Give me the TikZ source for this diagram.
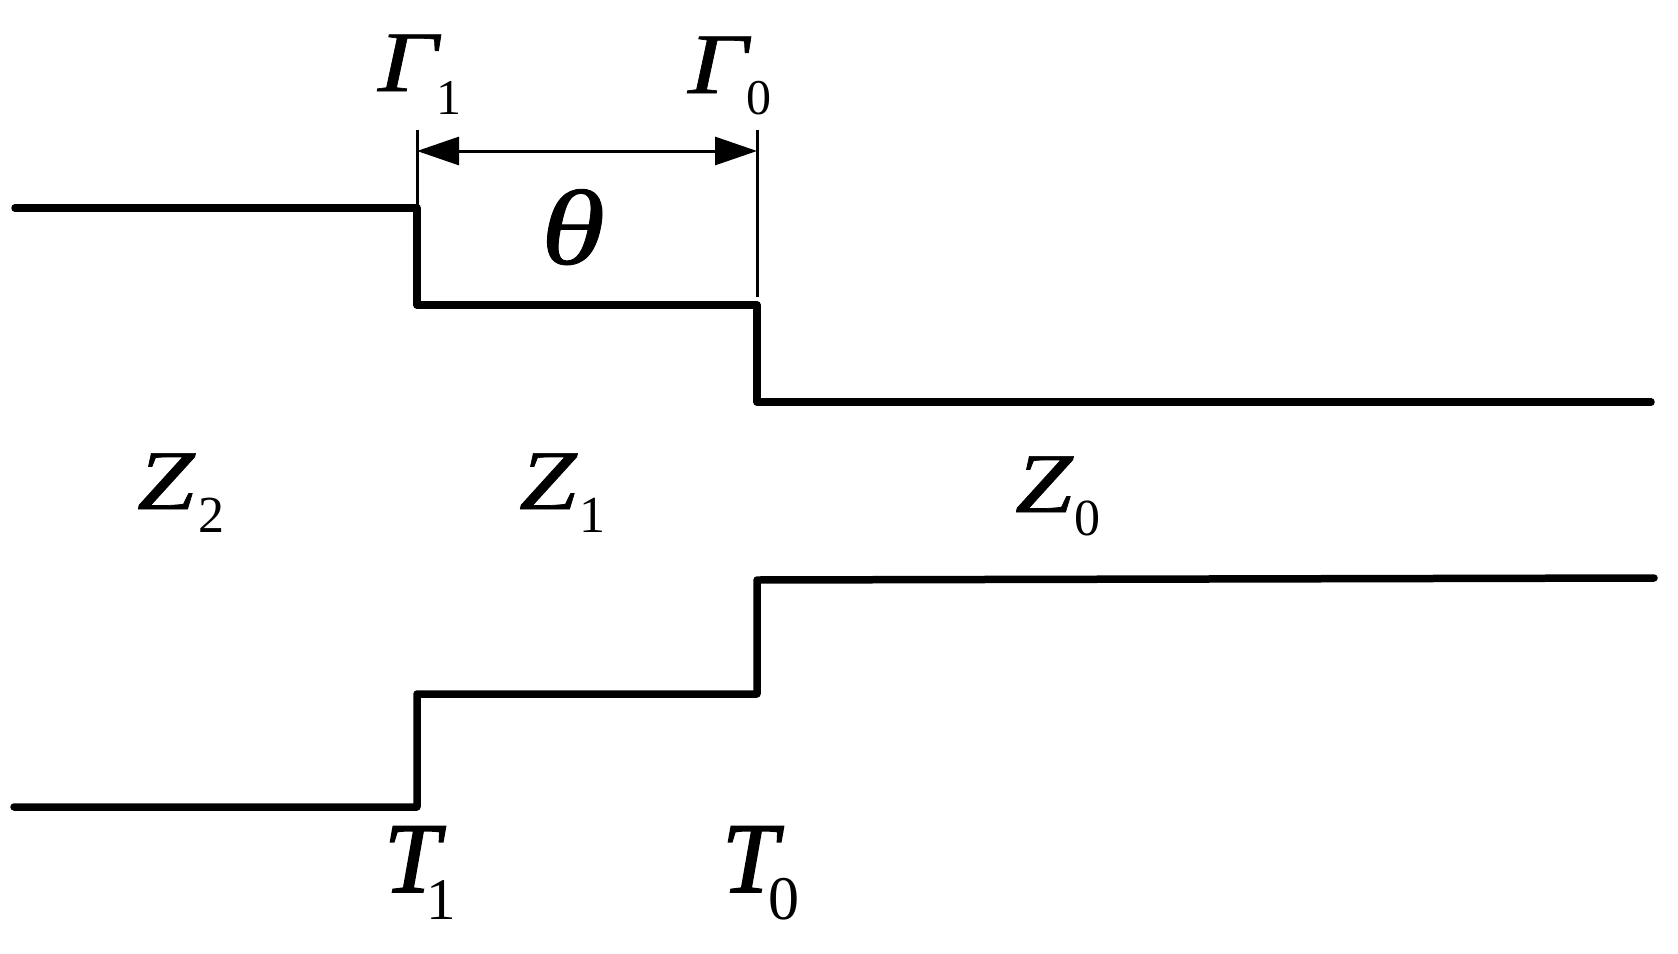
\documentclass[tikz,border=0pt]{standalone}
\usepackage{fontspec}
\setmainfont{Liberation Serif}
\newfontfamily\widefont[FakeBold=0.8,FakeStretch=1.22]{Liberation Serif}
\newfontfamily\boldfont[FakeBold=1.6]{Liberation Serif}
\usetikzlibrary{arrows.meta, positioning}

\newcommand{\withsub}[7]{{#1\fontsize{#2}{#2}\selectfont\itshape #4}\kern#6pt\raisebox{#7pt}{\fontsize{#3}{#3}\selectfont #5}}

\tikzset{
	wall/.style={line width=7.5pt, line cap=round, line join=round},
	tick/.style={line width=3pt},
	span/.style={line width=3pt, {Triangle[length=42pt,width=28pt]}-{Triangle[length=42pt,width=28pt]}},
	symbol/.style={inner sep=0pt, outer sep=0pt, anchor=base west}
}

\begin{document}
\begin{tikzpicture}[x=1pt, y=-1pt]

\useasboundingbox (0,0) rectangle (1678,953);

\coordinate (ua) at (15,208);
\coordinate (ub) at (417,208);
\coordinate (uc) at (417,305);
\coordinate (ud) at (757,305);
\coordinate (ue) at (757,402);
\coordinate (uf) at (1651,402);

\coordinate (la) at (14,807);
\coordinate (lb) at (417,807);
\coordinate (lc) at (417,694);
\coordinate (ld) at (757,694);
\coordinate (le) at (757,580);
\coordinate (lf) at (1654,578);

\coordinate (tl) at (417,130);
\coordinate (tr) at (757,130);
\coordinate (sl) at (417,151);
\coordinate (sr) at (757,151);
\coordinate (br) at (757,297);

\draw [wall] (ua) -- (ub) -- (uc) -- (ud) -- (ue) -- (uf);
\draw [wall] (la) -- (lb) -- (lc) -- (ld) -- (le) -- (lf);

\draw [tick] (tl) -- (ub);
\draw [tick] (tr) -- (br);
\draw [span] (sl) -- (sr);

\node [symbol] (gamma1) at (378,91) {\withsub{\widefont}{86pt}{50pt}{Γ}{1}{-1}{-23}};
\node [symbol] (gamma0) at (688,93) {\withsub{\widefont}{86pt}{50pt}{Γ}{0}{-1}{-21}};
\node [symbol] (theta) at (541,264) {\widefont\fontsize{107pt}{107pt}\selectfont\itshape θ};

\node [symbol] (z2) at (137,509) {\withsub{\widefont}{85pt}{52pt}{Z}{2}{4}{-23}};
\node [symbol] (z1) at (519,509) {\withsub{\widefont}{85pt}{52pt}{Z}{1}{3}{-23}};
\node [symbol] (z0) at (1015,512) {\withsub{\widefont}{85pt}{52pt}{Z}{0}{2}{-23}};

\node [symbol] (t1) at (384,892) {\withsub{\boldfont}{100pt}{59pt}{T}{1}{-13}{-27}};
\node [symbol] (t0) at (722,892) {\withsub{\boldfont}{100pt}{62pt}{T}{0}{-9}{-27}};

\end{tikzpicture}
\end{document}
